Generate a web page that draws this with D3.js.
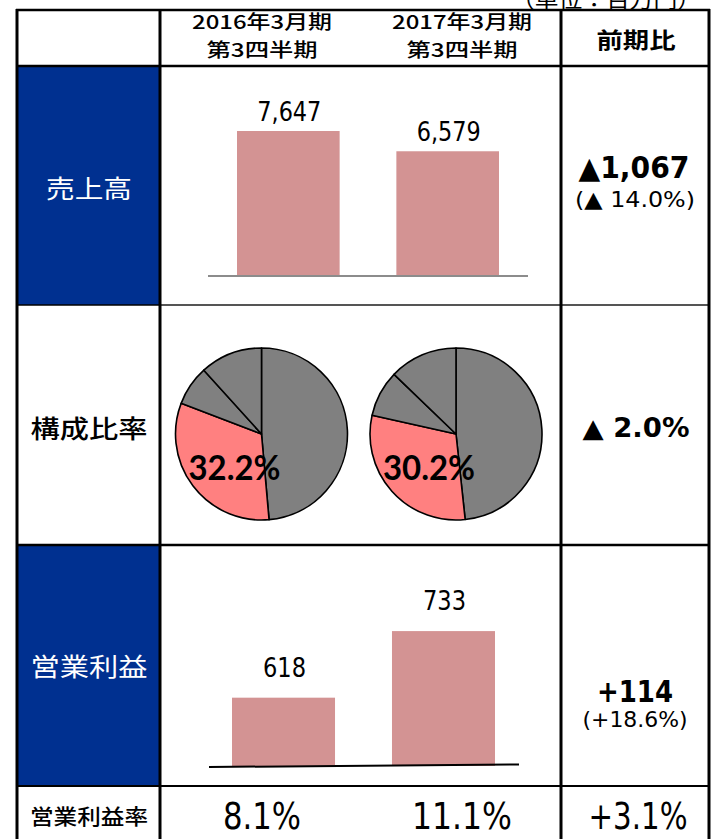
<!DOCTYPE html>
<html><head><meta charset="utf-8">
<script src="https://cdn.jsdelivr.net/npm/d3@7"></script>
<style>html,body{margin:0;padding:0;background:#fff;overflow:hidden}</style>
</head><body>
<script>
// ---- data ----
const periods = ["2016年3月期\n第3四半期", "2017年3月期\n第3四半期"];
const salesValues = [7647, 6579];
const salesLabels = ["7,647", "6,579"];
const pie2016 = [48.6, 32.2, 7.5, 11.7];
const pie2017 = [48.3, 30.2, 8.7, 12.8];
const pieLabels = ["32.2%", "30.2%"];
const opValues = [618, 733];
const opLabels = ["618", "733"];
const marginLabels = ["8.1%", "11.1%"];
const rowTitles = ["売上高", "構成比率", "営業利益", "営業利益率"];
const diffSales = ["▲1,067", "(▲ 14.0%)"];
const diffRatio = "▲ 2.0%";
const diffOp = ["+114", "(+18.6%)"];
const diffMargin = "+3.1%";
const unitText = "（単位：百万円）";

const W = 715, H = 839;
const svg = d3.select("body").append("svg").attr("width", W).attr("height", H);

const JP = "'Noto Sans CJK JP','Noto Sans',sans-serif";
const NUM = "'Liberation Sans Narrow','DejaVu Sans Condensed','Liberation Sans',sans-serif";
const PIEF = "Lato,'Open Sans',sans-serif";

function txt(x, y, s, size, opt) {
  opt = opt || {};
  const t = svg.append("text").attr("x", x).attr("y", y)
    .attr("text-anchor", opt.anchor || "middle")
    .attr("dominant-baseline", "central")
    .attr("font-family", opt.font || JP)
    .attr("font-size", size)
    .attr("font-weight", opt.weight || "normal")
    .attr("fill", opt.fill || "#000")
    .text(s);
  if (opt.len) t.attr("textLength", opt.len).attr("lengthAdjust", "spacingAndGlyphs");
  return t;
}

// ---- blue cells ----
const blue = "#003090";
svg.append("rect").attr("x", 17).attr("y", 66).attr("width", 143).attr("height", 239).attr("fill", blue);
svg.append("rect").attr("x", 17).attr("y", 545).attr("width", 143).attr("height", 241).attr("fill", blue);

// unit text (cut at top, as in the reference)
txt(606, -3, unitText, 22, {len: 190});

// ---- header ----
periods.forEach((p, i) => {
  const [a, b] = p.split("\n");
  const cx = [262, 462][i];
  txt(cx, 20, a, 19, {len: 140, weight: 500});
  txt(cx, 48, b, 19, {len: 111, weight: 500});
});
txt(636, 38, "前期比", 22, {len: 79, weight: "bold"});

// ---- row titles ----
txt(89, 187, rowTitles[0], 25, {fill: "#fff", len: 86});
txt(89, 427, rowTitles[1], 25, {len: 117, weight: 500});
txt(89, 665, rowTitles[2], 25, {fill: "#fff", len: 117});
txt(89, 815, rowTitles[3], 21, {len: 118, weight: 500});

// ---- sales bar chart ----
const barColor = "#d39393";
const xS = d3.scaleBand().domain(periods).range([237, 499]).paddingInner(0.356);
const yS = d3.scaleLinear().domain([0, 8000]).range([276, 276 - 8000 * 0.01896]);
svg.append("g").selectAll("rect").data(salesValues).join("rect")
  .attr("x", (d, i) => xS(periods[i])).attr("width", xS.bandwidth())
  .attr("y", d => yS(d)).attr("height", d => yS(0) - yS(d)).attr("fill", barColor);
svg.append("line").attr("x1", 208).attr("x2", 528).attr("y1", yS(0)).attr("y2", yS(0))
  .attr("stroke", "#8c8c8c").attr("stroke-width", 2);
salesValues.forEach((d, i) => {
  txt(xS(periods[i]) + xS.bandwidth() / 2 + 1, yS(d) - 19, salesLabels[i], 26, {font: NUM, len: 64});
});

// ---- pies ----
const pieGen = d3.pie().sort(null).value(d => d);
const R = 86;
const arcGen = d3.arc().innerRadius(0).outerRadius(R);
const pieColors = ["#808080", "#ff8080", "#808080", "#808080"];
[[pie2016, 261.5], [pie2017, 456]].forEach(([data, cx], k) => {
  const g = svg.append("g").attr("transform", `translate(${cx},434)`);
  g.selectAll("path").data(pieGen(data)).join("path")
    .attr("d", arcGen).attr("fill", (d, i) => pieColors[i])
    .attr("stroke", "#000").attr("stroke-width", 1.6).attr("stroke-linejoin", "round");
  g.append("text").attr("x", -27).attr("y", 32)
    .attr("text-anchor", "middle").attr("dominant-baseline", "central")
    .attr("font-family", PIEF).attr("font-weight", "bold").attr("font-size", 34)
    .attr("textLength", 92).attr("lengthAdjust", "spacingAndGlyphs")
    .text(pieLabels[k]);
});

// ---- operating income bar chart ----
const xO = d3.scaleBand().domain(periods).range([232, 495]).paddingInner(0.356);
const yO = d3.scaleLinear().domain([500, 800]).range([766, 766 - 300 * 0.579]);
svg.append("g").selectAll("rect").data(opValues).join("rect")
  .attr("x", (d, i) => xO(periods[i])).attr("width", xO.bandwidth())
  .attr("y", d => yO(d)).attr("height", d => yO(500) - yO(d)).attr("fill", barColor);
svg.append("line").attr("x1", 209).attr("x2", 519).attr("y1", 767).attr("y2", 764.5)
  .attr("stroke", "#000").attr("stroke-width", 2);
opValues.forEach((d, i) => {
  txt(xO(periods[i]) + xO.bandwidth() / 2 + 1, yO(d) - 30, opLabels[i], 26, {font: NUM, len: 43});
});

// ---- margin row ----
txt(262, 816, marginLabels[0], 37, {font: NUM, len: 78, weight: 500});
txt(462, 816, marginLabels[1], 37, {font: NUM, len: 100, weight: 500});

// ---- right column ----
txt(634, 167, diffSales[0], 30, {font: NUM, weight: "bold", len: 111});
txt(635, 199, diffSales[1], 22, {font: NUM, len: 120});
txt(636, 428, diffRatio, 26, {font: NUM, weight: "bold", len: 107});
txt(635, 691, diffOp[0], 30, {font: NUM, weight: "bold", len: 76});
txt(635, 719, diffOp[1], 22, {font: NUM, len: 105});
txt(638, 816, diffMargin, 37, {font: NUM, len: 99, weight: 500});

// ---- grid lines ----
const hl = (y, x1, x2, w, c) => svg.append("line").attr("x1", x1).attr("x2", x2).attr("y1", y).attr("y2", y)
  .attr("stroke", c || "#000").attr("stroke-width", w);
const vl = (x, y1, y2, w) => svg.append("line").attr("x1", x).attr("x2", x).attr("y1", y1).attr("y2", y2)
  .attr("stroke", "#000").attr("stroke-width", w);
hl(10, 16, 710, 2.5);
hl(66, 16, 710, 2.5);
hl(305, 160, 710, 2, "#555");
hl(305, 17, 160, 1.5, "#000");
hl(545, 16, 710, 2.5);
hl(786, 16, 710, 2);
vl(17, 9, 839, 3);
vl(160, 9, 839, 3);
vl(561, 9, 839, 3);
vl(709, 9, 839, 3);
</script>
</body></html>
